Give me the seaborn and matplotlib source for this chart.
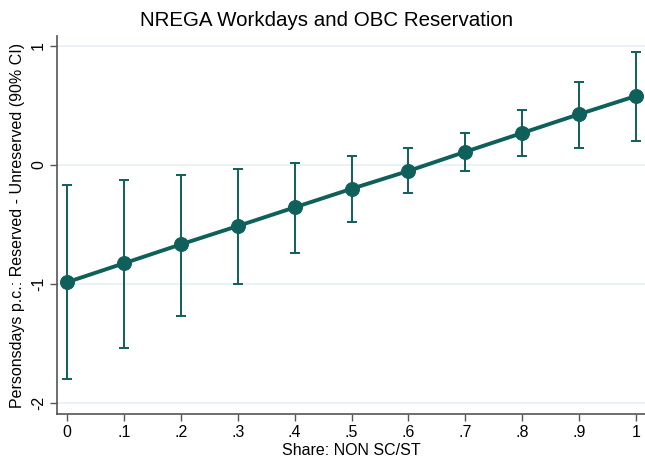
import matplotlib
matplotlib.use("Agg")
import matplotlib.pyplot as plt
import seaborn as sns
import pandas as pd

share = [0.0, 0.1, 0.2, 0.3, 0.4, 0.5, 0.6, 0.7, 0.8, 0.9, 1.0]
estimate = [-0.985, -0.826, -0.667, -0.513, -0.356, -0.200, -0.050, 0.111, 0.269, 0.427, 0.580]
ci_low = [-1.800, -1.535, -1.266, -1.003, -0.737, -0.479, -0.237, -0.049, 0.076, 0.145, 0.204]
ci_high = [-0.168, -0.128, -0.081, -0.036, 0.014, 0.074, 0.146, 0.267, 0.462, 0.700, 0.953]
xtick_vals = [0.0, 0.1, 0.2, 0.3, 0.4, 0.5, 0.6, 0.7, 0.8, 0.9, 1.0]
xtick_labels = ["0", ".1", ".2", ".3", ".4", ".5", ".6", ".7", ".8", ".9", "1"]
ytick_vals = [-2, -1, 0, 1]
ytick_labels = ["-2", "-1", "0", "1"]

df = pd.DataFrame({"share": share, "est": estimate, "lo": ci_low, "hi": ci_high})

sns.set_theme(style="white")
plt.rcParams["font.family"] = ["Liberation Sans", "DejaVu Sans"]
plt.rcParams["text.color"] = "black"
plt.rcParams["axes.labelcolor"] = "black"
plt.rcParams["xtick.color"] = "black"
plt.rcParams["ytick.color"] = "black"

color = "#0f5f5a"
fig = plt.figure(figsize=(6.45, 4.58), dpi=100)
ax = fig.add_axes([57/645, (458-414)/458, (645-57)/645, (414-36)/458])

for y in ytick_vals:
    ax.axhline(y, color="#e8f0f3", lw=1.2, zorder=0)

ax.errorbar(df["share"], df["est"],
            yerr=[df["est"] - df["lo"], df["hi"] - df["est"]],
            fmt="none", ecolor=color, elinewidth=1.4, capsize=3.8, capthick=1.4, zorder=2)
sns.lineplot(data=df, x="share", y="est", ax=ax, color=color, lw=2.8,
             marker="o", markersize=10, markeredgecolor=color, zorder=3)

ax.set_xlim(-10/569, 578/569)
ax.set_ylim(-2.092, 1.084)
ax.set_xticks(xtick_vals)
ax.set_xticklabels(xtick_labels, fontsize=11.5)
ax.set_yticks(ytick_vals)
ax.set_yticklabels(ytick_labels, fontsize=11.5, rotation=90, va="center")
ax.tick_params(axis="both", direction="out", length=5, width=1, color="#555555",
               bottom=True, left=True, pad=3)

for s in ["top", "right"]:
    ax.spines[s].set_visible(False)
for s in ["left", "bottom"]:
    ax.spines[s].set_color("#555555")
    ax.spines[s].set_linewidth(1.2)

ax.set_xlabel("Share: NON SC/ST", fontsize=11.5, labelpad=2)
ax.set_ylabel("Personsdays p.c.: Reserved - Unreserved (90% CI)", fontsize=11.5, labelpad=4)
fig.text(327/645, 1 - 20/458, "NREGA Workdays and OBC Reservation", ha="center", va="center", fontsize=14.8)

fig.savefig("out.png", dpi=100)
